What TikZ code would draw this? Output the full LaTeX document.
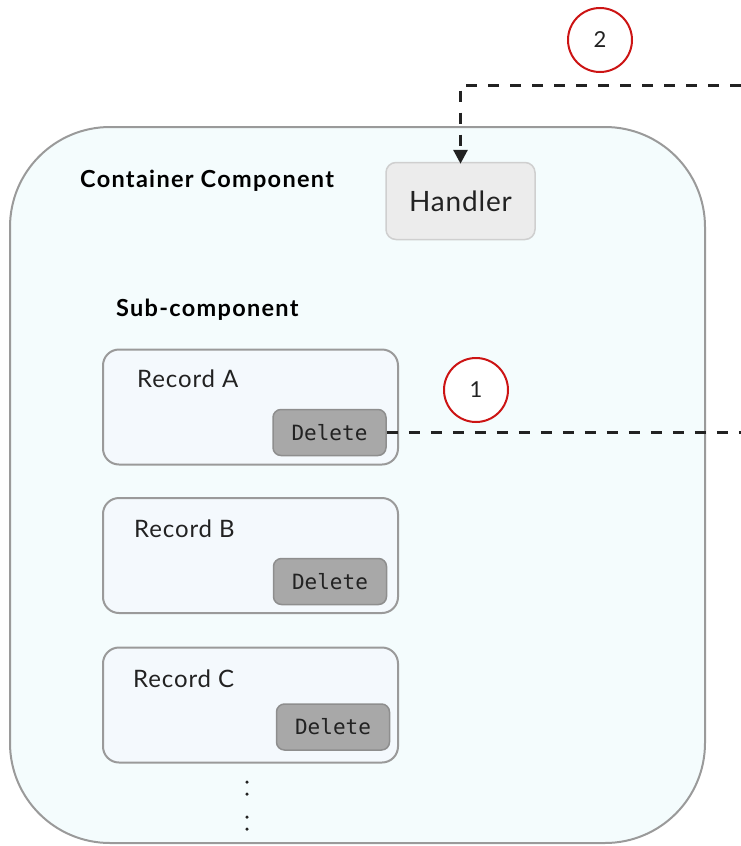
\documentclass[tikz,border=0pt]{standalone}
\usepackage{fontspec}
\setmainfont{Lato}
\setmonofont{DejaVu Sans Mono}
\usetikzlibrary{arrows.meta}
\definecolor{outerfill}{HTML}{F4FCFD}
\definecolor{recfill}{HTML}{F4F9FD}
\definecolor{bordergray}{HTML}{9A9A9A}
\definecolor{handfill}{HTML}{ECECEC}
\definecolor{handborder}{HTML}{CFCFCF}
\definecolor{delfill}{HTML}{A8A8A8}
\definecolor{delborder}{HTML}{8E8E8E}
\definecolor{circred}{HTML}{CC1414}
\definecolor{ink}{HTML}{222222}
\tikzset{
  outerbox/.style={draw=bordergray, fill=outerfill, line width=2pt, rounded corners=100pt, minimum width=695pt, minimum height=716pt, inner sep=0pt},
  recbox/.style={draw=bordergray, fill=recfill, line width=2pt, rounded corners=16pt, minimum width=295pt, minimum height=115pt, inner sep=0pt},
  delbox/.style={draw=delborder, fill=delfill, line width=1.5pt, rounded corners=8pt, minimum width=113pt, minimum height=46pt, inner sep=0pt, font=\ttfamily\fontsize{21}{24}\selectfont, text=ink},
  handbox/.style={draw=handborder, fill=handfill, line width=1.5pt, rounded corners=10pt, minimum width=149pt, minimum height=77pt, inner sep=0pt, font=\fontsize{28}{32}\selectfont\addfontfeature{LetterSpace=3}, text=ink},
  title/.style={anchor=base west, inner sep=0pt, font=\bfseries\fontsize{23.5}{28}\selectfont\addfontfeature{LetterSpace=5.5}, text=black},
  reclabel/.style={anchor=base west, inner sep=0pt, font=\fontsize{24}{28}\selectfont\addfontfeature{LetterSpace=3.7}, text=ink},
  numcirc/.style={circle, draw=circred, line width=2pt, fill=white, minimum size=64pt, inner sep=0pt, font=\fontsize{22}{26}\selectfont, text=ink},
  flow/.style={draw=ink, line width=3pt, dash pattern=on 11pt off 11pt},
  vdot/.style={circle, fill=ink, minimum size=3.5pt, inner sep=0pt}
}
\begin{document}
\begin{tikzpicture}[x=1pt,y=-1pt]
\useasboundingbox (0,0) rectangle (741,846);
\node[outerbox] (outer) at (357.5,485) {};
\node[title] (ctitle) at (80,187) {Container Component};
\node[title] (stitle) at (116,316) {Sub-component};
\node[handbox] (handler) at (460.5,201) {Handler};

\node[recbox] (recA) at (250.5,407) {};
\node[reclabel] (labA) at (137,387) {Record A};
\node[delbox] (delA) at (329.5,432.5) {Delete};

\node[recbox] (recB) at (250.5,555.5) {};
\node[reclabel] (labB) at (134,537) {Record B};
\node[delbox] (delB) at (330,581.5) {Delete};

\node[recbox] (recC) at (250.5,705) {};
\node[reclabel] (labC) at (133,687) {Record C};
\node[delbox] (delC) at (333,727) {Delete};

\node[vdot] (d1) at (247,782) {};
\node[vdot] (d2) at (247,794) {};
\node[vdot] (d3) at (247,817) {};
\node[vdot] (d4) at (247,829) {};

\coordinate (outA) at (741,432.5);
\coordinate (outTop) at (741,85);
\coordinate (bend) at (handler.north |- outTop);
\draw[flow] (delA.east) -- (outA);
\draw[flow, -{Triangle[width=14pt,length=14pt]}, line cap=butt] (outTop) -- (bend) -- ([yshift=-2pt]handler.north);

\node[numcirc] (n1) at (476,390) {1};
\node[numcirc] (n2) at (600,40) {2};
\end{tikzpicture}
\end{document}
